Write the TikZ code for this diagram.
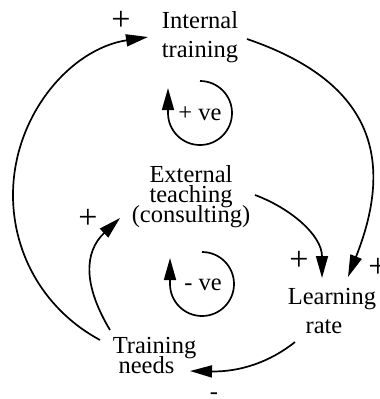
\documentclass[tikz,border=0pt]{standalone}
\usepackage{fontspec}
\setmainfont{Liberation Serif}
\usetikzlibrary{arrows.meta}
\setlength{\lineskiplimit}{-50pt}
\begin{document}
\begin{tikzpicture}[x=1pt,y=-1pt,
  lbl/.style={inner sep=0pt, align=center, anchor=base},
  wide/.style={font=\fontsize{24.5}{29}\selectfont},
  tight/.style={font=\fontsize{24.5}{20}\selectfont},
  sgn/.style={inner sep=0pt, anchor=center, font=\fontsize{34}{40}\selectfont},
  arr/.style={line width=1.7pt, -{Triangle[length=22pt,width=12pt]}},
  lp/.style={line width=1.7pt, -{Triangle[length=22pt,width=12pt]}}]
\useasboundingbox (0,0) rectangle (380,399);
% nodes (base = baseline of last line)
\node[lbl,wide]  (it)  at (200,57)    {Internal\\training};
\node[lbl,tight] (ext) at (191,222)   {External\\teaching\\(consulting)};
\node[lbl,wide]  (lr)  at (332,333)   {Learning\\rate\hspace*{16pt}};
\node[lbl,tight] (tn)  at (154.5,373) {Training\\needs\hspace*{16pt}};
\node[lbl,font=\fontsize{24.5}{29}\selectfont] (pve) at (200,120) {+ ve};
\node[lbl,font=\fontsize{24.5}{29}\selectfont] (nve) at (203,290) {- ve};
% signs
\node[sgn] (s1) at (121,21)  {+};
\node[sgn] (s2) at (88,219)  {+};
\node[sgn] (s3) at (299,261) {+};
\node[sgn] (s4) at (378,268) {+};
\node[lbl,font=\fontsize{24.5}{29}\selectfont] (s5) at (214,399.5) {-};
% connectors
\draw[arr] ([shift={(-54.5,-33)}]tn.base) .. controls (46,311) and (13,256) .. (13,195)
  .. controls (13,116) and (70,49) .. ([shift={(-52,-20)}]it.base);
\draw[arr] ([shift={(47,-18)}]it.base) .. controls (370,81) and (396,156) .. ([shift={(16,-56)}]lr.base);
\draw[arr] ([shift={(64,-27)}]ext.base) .. controls (290,208) and (322,235) .. ([shift={(-10,-55)}]lr.base);
\draw[arr] ([shift={(-44.5,-43)}]tn.base) .. controls (83,285) and (84,252) .. ([shift={(-71,-4)}]ext.base);
\draw[arr] ([shift={(-37,9)}]lr.base) .. controls (270,362) and (240,372) .. ([shift={(35.5,-2)}]tn.base);
% loops
\draw[lp] (200,81) arc[start angle=-90, end angle=180, radius=32] -- ++(0,-25);
\draw[lp] (202,252) arc[start angle=-90, end angle=180, radius=32] -- ++(0,-26);
\end{tikzpicture}
\end{document}
